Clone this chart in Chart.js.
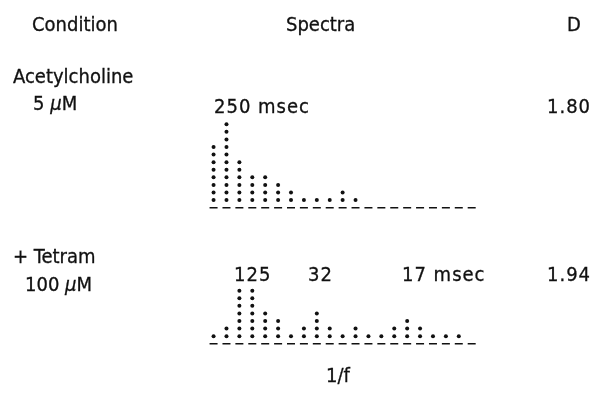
<!DOCTYPE html>
<html>
<head>
<meta charset="utf-8">
<script src="https://cdn.jsdelivr.net/npm/chart.js@4.4.0/dist/chart.umd.min.js"></script>
<style>
  html, body { margin: 0; padding: 0; background: #fff; }
  #wrap { position: relative; width: 593px; height: 394px; overflow: hidden; }
  #c { position: absolute; left: 0; top: 0; }
  .t { position: absolute; font-family: "DejaVu Sans Condensed", "DejaVu Sans", sans-serif; font-stretch: condensed;
       font-size: 20px; color: #111; white-space: nowrap; line-height: 1; -webkit-text-stroke: 0.3px #111; }
  .n { letter-spacing: 1px; }
  .mu { font-style: italic; }
</style>
</head>
<body>
<div id="wrap">
  <canvas id="c" width="593" height="394"></canvas>
  <div class="t" style="left:32px;top:14px;">Condition</div>
  <div class="t" style="left:286px;top:14px;">Spectra</div>
  <div class="t" style="left:567px;top:14px;">D</div>
  <div class="t" style="left:13px;top:66px;">Acetylcholine</div>
  <div class="t" style="left:33px;top:93px;">5 <span class="mu">μ</span>M</div>
  <div class="t n" style="left:214px;top:96px;">250 msec</div>
  <div class="t n" style="left:547px;top:96px;">1.80</div>
  <div class="t" style="left:13px;top:246px;">+ Tetram</div>
  <div class="t" style="left:25px;top:274px;">100 <span class="mu">μ</span>M</div>
  <div class="t n" style="left:234px;top:264px;">125</div>
  <div class="t n" style="left:308px;top:264px;">32</div>
  <div class="t n" style="left:402px;top:264px;">17 msec</div>
  <div class="t n" style="left:547px;top:264px;">1.94</div>
  <div class="t" style="left:326px;top:365px;">1/f</div>
</div>
<script>
// Spectral bins (1/f axis), 21 bins per spectrum
const bins = Array.from({length: 21}, (_, i) => i);
// Dot counts per bin: Acetylcholine 5 µM
const achCounts = [8, 11, 6, 4, 4, 3, 2, 1, 1, 1, 2, 1, 0, 0, 0, 0, 0, 0, 0, 0, 0];
// Dot counts per bin: + Tetram 100 µM
const tetCounts = [1, 2, 7, 7, 4, 3, 1, 2, 4, 2, 1, 2, 1, 1, 2, 3, 2, 1, 1, 1, 0];

function dotsFrom(counts) {
  const pts = [];
  counts.forEach((n, i) => { for (let k = 1; k <= n; k++) pts.push({x: bins[i], y: k}); });
  return pts;
}
function baseFrom() { return bins.map(b => ({x: b, y: 0})); }

const pxPerBin = 13.15, firstBinPx = 212, W = 593, H = 394, pxPerLevel = 7.8;
const xMin = -firstBinPx / pxPerBin, xMax = xMin + W / pxPerBin;
function yRange(basePx) { return {min: -(H - basePx) / pxPerLevel, max: basePx / pxPerLevel}; }
const rTop = yRange(208), rBot = yRange(348);

const dotStyle = {showLine: false, pointRadius: 2, pointBackgroundColor: '#111', pointBorderWidth: 0, pointHoverRadius: 2};
const dashStyle = {showLine: false, pointStyle: 'line', pointRadius: 4, pointBorderColor: '#111', pointBorderWidth: 1.5, pointHoverRadius: 4};

new Chart(document.getElementById('c'), {
  type: 'scatter',
  data: {
    datasets: [
      Object.assign({label: 'Acetylcholine', data: dotsFrom(achCounts), yAxisID: 'yTop'}, dotStyle),
      Object.assign({label: 'Acetylcholine base', data: baseFrom(), yAxisID: 'yTop'}, dashStyle),
      Object.assign({label: 'Tetram', data: dotsFrom(tetCounts), yAxisID: 'yBot'}, dotStyle),
      Object.assign({label: 'Tetram base', data: baseFrom(), yAxisID: 'yBot'}, dashStyle)
    ]
  },
  options: {
    responsive: false, animation: false,
    layout: {padding: 0},
    plugins: {legend: {display: false}, tooltip: {enabled: false}, title: {display: false}},
    scales: {
      x: {type: 'linear', display: false, min: xMin, max: xMax},
      yTop: {type: 'linear', display: false, min: rTop.min, max: rTop.max},
      yBot: {type: 'linear', display: false, min: rBot.min, max: rBot.max}
    }
  }
});
</script>
</body>
</html>
